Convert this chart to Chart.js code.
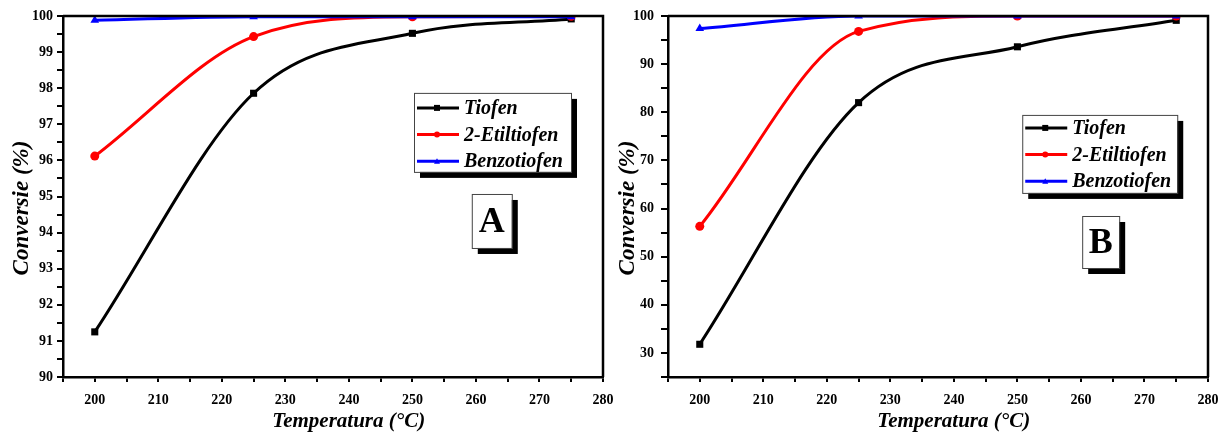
<!DOCTYPE html>
<html>
<head>
<meta charset="utf-8">
<script src="https://cdn.jsdelivr.net/npm/chart.js@4.4.1/dist/chart.umd.min.js"></script>
<style>
  html, body { margin: 0; padding: 0; background: #fff; }
  #wrap { position: relative; width: 1219px; height: 432px; overflow: hidden; }
  .pane { position: absolute; top: 0; height: 432px; }
</style>
</head>
<body>
<div id="wrap">
  <div class="pane" style="left:0;width:620px"><canvas id="chartA"></canvas></div>
  <div class="pane" style="left:600px;width:619px"><canvas id="chartB"></canvas></div>
</div>
<script>
// ---------------------------------------------------------------
// data
// ---------------------------------------------------------------
const temperatures = [200, 225, 250, 275];
const seriesNames = ["Tiofen", "2-Etiltiofen", "Benzotiofen"];

const tiofenA      = [91.25, 97.86, 99.52, 99.92];
const etiltiofenA  = [96.12, 99.43, 99.98, 99.99];
const benzotiofenA = [99.88, 99.98, 99.98, 99.98];

const tiofenB      = [31.8, 82.0, 93.6, 99.1];
const etiltiofenB  = [56.3, 96.8, 100.0, 100.0];
const benzotiofenB = [97.4, 100.0, 100.0, 100.0];

const xTickLabels  = [200, 210, 220, 230, 240, 250, 260, 270, 280];
const yTickLabelsA = [90, 91, 92, 93, 94, 95, 96, 97, 98, 99, 100];
const yTickLabelsB = [30, 40, 50, 60, 70, 80, 90, 100];

const SERIF = "'Liberation Serif', 'Times New Roman', serif";
const seriesStyle = [
  { color: "#000000", marker: "rect" },
  { color: "#ff0000", marker: "circle" },
  { color: "#0000ff", marker: "triangle" }
];

function points(vals) {
  return temperatures.map((t, i) => ({ x: t, y: vals[i] }));
}

function makeDatasets(lists) {
  return lists.map((vals, i) => ({
    label: seriesNames[i],
    data: points(vals),
    borderColor: seriesStyle[i].color,
    backgroundColor: seriesStyle[i].color,
    borderWidth: 3,
    pointStyle: seriesStyle[i].marker,
    pointRadius: i === 1 ? 4.5 : 5,
    pointBorderWidth: 0,
    cubicInterpolationMode: "monotone",
    order: 3 - i
  }));
}

// small marker drawer for the legend
function marker(ctx, kind, x, y, r) {
  ctx.beginPath();
  if (kind === "rect") {
    ctx.rect(x - r, y - r, 2 * r, 2 * r);
  } else if (kind === "circle") {
    ctx.arc(x, y, r, 0, Math.PI * 2);
  } else {
    ctx.moveTo(x, y - r);
    ctx.lineTo(x + r, y + r * 0.8);
    ctx.lineTo(x - r, y + r * 0.8);
    ctx.closePath();
  }
  ctx.fill();
}

// frame, legend box and panel letter
const decor = {
  id: "decor",
  afterDraw(chart, args, opts) {
    const { ctx, chartArea: a } = chart;
    const w = a.right - a.left, h = a.bottom - a.top;
    ctx.save();

    // top + right frame lines
    ctx.strokeStyle = "#000";
    ctx.lineWidth = 2.5;
    ctx.beginPath();
    ctx.moveTo(a.left, a.top);
    ctx.lineTo(a.right, a.top);
    ctx.lineTo(a.right, a.bottom);
    ctx.stroke();

    // legend
    const lx = a.left + opts.legend[0] * w, ly = a.top + opts.legend[1] * h;
    const lw = opts.legend[2], lh = opts.legend[3];
    ctx.fillStyle = "#000";
    ctx.fillRect(lx + 6, ly + 6, lw, lh);
    ctx.fillStyle = "#fff";
    ctx.fillRect(lx, ly, lw, lh);
    ctx.strokeStyle = "#444";
    ctx.lineWidth = 1;
    ctx.strokeRect(lx + 0.5, ly + 0.5, lw, lh);

    ctx.font = "italic bold 20px " + SERIF;
    ctx.textBaseline = "middle";
    ctx.textAlign = "left";
    chart.data.datasets.forEach((ds, i) => {
      const ry = ly + opts.rowTop + i * 26.7;
      ctx.strokeStyle = ds.borderColor;
      ctx.lineWidth = 3;
      ctx.beginPath();
      ctx.moveTo(lx + 3, ry);
      ctx.lineTo(lx + 45, ry);
      ctx.stroke();
      ctx.fillStyle = ds.borderColor;
      marker(ctx, seriesStyle[i].marker, lx + 23, ry, 3);
      ctx.fillStyle = "#000";
      ctx.fillText(ds.label, lx + 50, ry + 1);
    });

    // panel letter
    const tx = a.left + opts.tag[0] * w, ty = a.top + opts.tag[1] * h;
    const tw = opts.tag[2], th = opts.tag[3];
    ctx.fillStyle = "#000";
    ctx.fillRect(tx + 6, ty + 6, tw, th);
    ctx.fillStyle = "#fff";
    ctx.fillRect(tx, ty, tw, th);
    ctx.strokeStyle = "#444";
    ctx.lineWidth = 1;
    ctx.strokeRect(tx + 0.5, ty + 0.5, tw, th);
    ctx.fillStyle = "#000";
    ctx.font = "bold 36px " + SERIF;
    ctx.textAlign = "center";
    ctx.fillText(opts.text, tx + tw / 2, ty + th / 2 + 2);

    ctx.restore();
  }
};

function makeChart(id, lists, cfg) {
  const tickFont = { family: SERIF, weight: "bold", size: 14 };
  return new Chart(document.getElementById(id), {
    type: "line",
    data: { datasets: makeDatasets(lists) },
    plugins: [decor],
    options: {
      responsive: true,
      maintainAspectRatio: false,
      animation: false,
      layout: { padding: cfg.padding },
      plugins: {
        legend: { display: false },
        tooltip: { enabled: false },
        decor: cfg.decor
      },
      scales: {
        x: {
          type: "linear",
          min: 195,
          max: 280,
          afterFit: (s) => { s.height = 55; s.paddingLeft = 0; s.paddingRight = 0; },
          border: { display: true, color: "#000", width: 2.5 },
          grid: { drawOnChartArea: false, color: "#000", tickLength: 5, lineWidth: 2 },
          ticks: {
            stepSize: 5,
            autoSkip: false,
            maxRotation: 0,
            padding: 10,
            color: "#000",
            font: tickFont,
            callback: (v) => xTickLabels.includes(v) ? String(v) : ""
          },
          title: {
            display: true,
            text: "      Temperatura (°C)",
            color: "#000",
            font: { family: SERIF, weight: "bold", style: "italic", size: 21 },
            padding: { top: 0, bottom: -2 }
          }
        },
        y: {
          type: "linear",
          min: cfg.yMin,
          max: cfg.yMax,
          afterFit: (s) => { s.width = cfg.yWidth; s.paddingTop = 0; s.paddingBottom = 0; },
          border: { display: true, color: "#000", width: 2.5 },
          grid: { drawOnChartArea: false, color: "#000", tickLength: cfg.yTickLen, lineWidth: 2 },
          ticks: {
            stepSize: cfg.yStep,
            autoSkip: false,
            padding: cfg.yPad,
            color: "#000",
            font: tickFont,
            callback: (v) => cfg.yLabels.includes(v) ? String(v) : ""
          },
          title: {
            display: true,
            text: "Conversie (%)    ",
            color: "#000",
            font: { family: SERIF, weight: "bold", style: "italic", size: 23 },
            padding: { top: cfg.yTitlePad, bottom: 0 }
          }
        }
      }
    }
  });
}

makeChart("chartA", [tiofenA, etiltiofenA, benzotiofenA], {
  yMin: 90, yMax: 100, yStep: 0.5, yLabels: yTickLabelsA,
  yWidth: 63, yTickLen: 6, yPad: 4, yTitlePad: 8,
  padding: { top: 16, right: 17, left: 0, bottom: 0 },
  decor: { legend: [0.65, 0.213, 157, 79], rowTop: 15, tag: [0.757, 0.493, 40, 54], text: "A" }
});

makeChart("chartB", [tiofenB, etiltiofenB, benzotiofenB], {
  yMin: 25, yMax: 100, yStep: 5, yLabels: yTickLabelsB,
  yWidth: 68, yTickLen: 7, yPad: 7, yTitlePad: 14,
  padding: { top: 16, right: 11, left: 0, bottom: 0 },
  decor: { legend: [0.656, 0.274, 155, 78], rowTop: 13, tag: [0.767, 0.554, 37, 52], text: "B" }
});
</script>
</body>
</html>
